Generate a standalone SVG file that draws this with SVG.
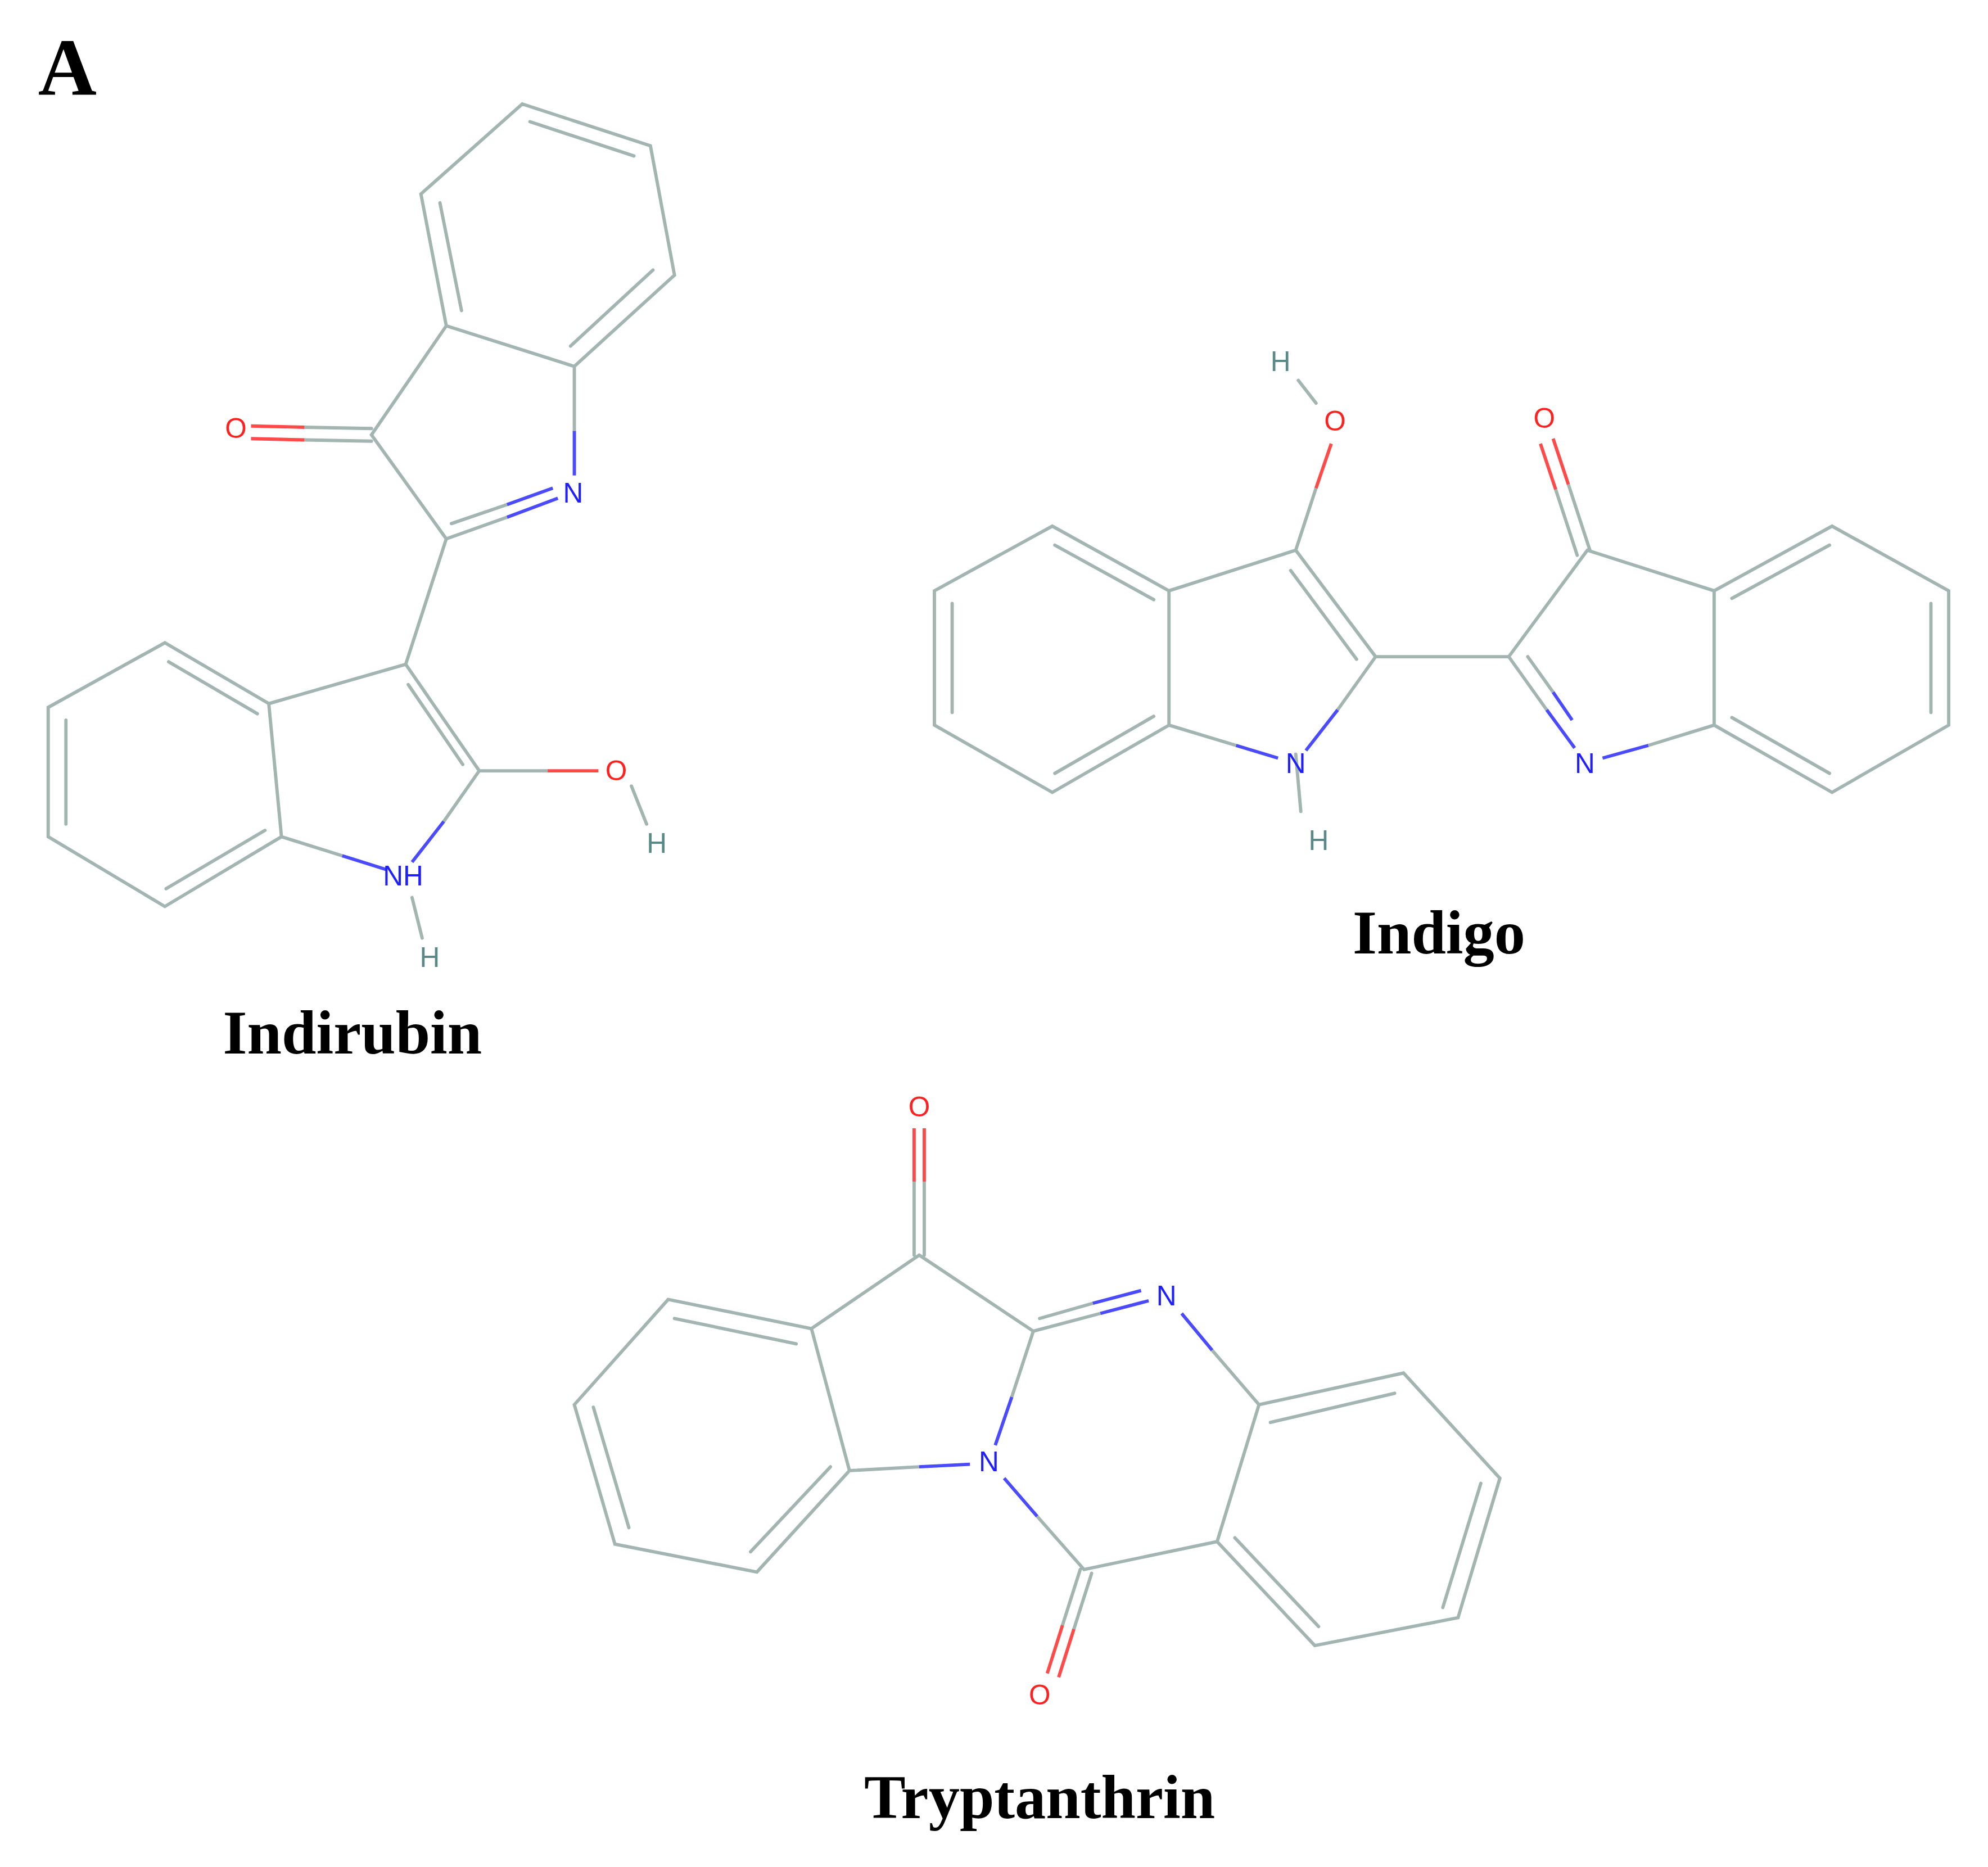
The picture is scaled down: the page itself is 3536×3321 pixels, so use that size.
<svg xmlns="http://www.w3.org/2000/svg" width="3536" height="3321" viewBox="0 0 3536 3321">
<style>
.b{stroke:#a3b5b1;stroke-width:2.6;fill:none;stroke-linecap:round}
.n{stroke:#4a4aff;stroke-width:2.6;fill:none}
.o{stroke:#ff4a4a;stroke-width:2.6;fill:none}
.t{font-family:"Liberation Serif",serif;font-weight:bold;fill:#000}
.at{font-family:"Liberation Sans",sans-serif;font-size:22px;text-anchor:middle;dominant-baseline:central}
</style>
<rect width="3536" height="3321" fill="#fff"/>
<g transform="scale(2.2551)">
<text class="t" x="30" y="75" font-size="64">A</text>
<g id="indirubin">
<path class="b" d="M412,82L513,115L532,217L453,289L352,257L332,153Z M418,96L500,123 M515,213L450,273 M364,245L347,160 M352,257L293,343L352,425 M453,289L453,340 M352,425L400,408 M356,413L400,398 M352,425L320,524 M130,507L212,555L222,660L130,715L38,660L38,558Z M133,522L203,563 M209,655L131,701 M52,650L52,568 M212,555L320,524L378,608L350,648 M222,660L270,675 M322,540L365,603 M378,608L432,608 M293,338L240,337 M293,348L240,347 M325,708L333,740"/>
<path class="n" d="M453,340L453,375 M400,408L440,393 M400,398L436,385 M350,648L325,680 M270,675L305,686"/>
<path class="o" d="M240,337L198,336 M240,347L198,346 M432,608L472,608"/>
<path class="b" d="M498,620L510,650"/>
<text class="at" x="186" y="338" fill="#ff2020">O</text>
<text class="at" x="452" y="389" fill="#2020ff">N</text>
<text class="at" x="318" y="691" fill="#2020ff">NH</text>
<text class="at" x="486" y="608" fill="#ff2020">O</text>
<text class="at" x="518" y="665" fill="#5a8a88">H</text>
<text class="at" x="339" y="755" fill="#5a8a88">H</text>
<text class="t" x="278" y="831" font-size="49" text-anchor="middle">Indirubin</text>
</g>
<g id="indigo">
<path class="b" d="M830,415L922,466L922,572L830,625L737,572L737,466Z M832,430L910,473 M910,565L832,610 M751,562L751,476 M922,466L1022,434L1085,518L1055,560 M922,572L975,588 M1018,450L1070,520 M1022,434L1038,385 M1085,518L1190,518L1252,434 M1190,518L1220,560 M1205,518L1225,546 M1254,434L1237,382 M1244,438L1227,386 M1352,466L1445,415L1537,466L1537,572L1445,625L1352,572Z M1366,472L1443,430 M1523,476L1523,562 M1443,610L1366,566 M1252,434L1352,466 M1352,572L1300,588 M1022,595L1026,640 M1024,300L1038,318"/>
<path class="n" d="M1055,560L1030,592 M975,588L1008,598 M1220,560L1242,590 M1225,546L1240,568 M1300,588L1264,598"/>
<path class="o" d="M1038,385L1050,350 M1237,382L1225,346 M1227,386L1215,350"/>
<text class="at" x="1053" y="332" fill="#ff2020">O</text>
<text class="at" x="1010" y="285" fill="#5a8a88">H</text>
<text class="at" x="1022" y="602" fill="#2020ff">N</text>
<text class="at" x="1040" y="663" fill="#5a8a88">H</text>
<text class="at" x="1250" y="602" fill="#2020ff">N</text>
<text class="at" x="1218" y="330" fill="#ff2020">O</text>
<text class="t" x="1135" y="752" font-size="49" text-anchor="middle">Indigo</text>
</g>
<g id="tryptanthrin">
<path class="b" d="M725,990L815,1050L798,1102 M725,990L640,1048L670,1160L725,1157 M640,1048L527,1025L453,1108L485,1218L597,1240L670,1160 M532,1040L628,1060 M468,1110L496,1205 M592,1224L655,1157 M721,990L721,932 M729,990L729,932 M815,1050L868,1036 M820,1040L862,1028 M956,1065L993,1108L960,1216L855,1238L818,1196 M993,1108L1107,1083L1183,1166L1150,1276L1037,1298L960,1216 M1002,1122L1100,1099 M1168,1170L1138,1268 M1040,1283L974,1213 M852,1238L838,1282 M861,1241L847,1285"/>
<path class="n" d="M798,1102L785,1140 M725,1157L765,1155 M868,1036L906,1026 M862,1028L900,1018 M956,1065L932,1036 M818,1196L792,1166"/>
<path class="o" d="M721,932L721,890 M729,932L729,890 M838,1282L826,1320 M847,1285L835,1323"/>
<text class="at" x="725" y="873" fill="#ff2020">O</text>
<text class="at" x="920" y="1022" fill="#2020ff">N</text>
<text class="at" x="780" y="1153" fill="#2020ff">N</text>
<text class="at" x="820" y="1337" fill="#ff2020">O</text>
<text class="t" x="820" y="1434" font-size="49" text-anchor="middle">Tryptanthrin</text>
</g>
<g id="connectors"/>
</g>
</svg>
